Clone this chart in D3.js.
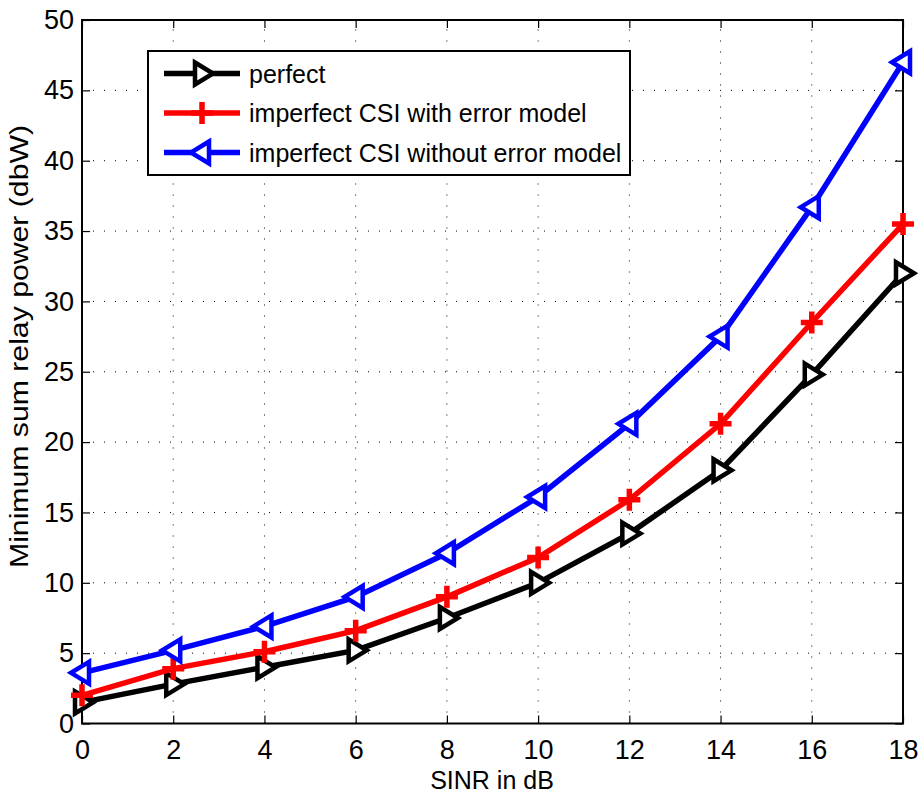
<!DOCTYPE html>
<html><head><meta charset="utf-8">
<script src="https://cdn.jsdelivr.net/npm/d3@7"></script>
<style>body{margin:0;background:#fff}svg{display:block}text{font-family:"Liberation Sans",Arial,sans-serif}</style>
</head><body>
<svg id="c" width="921" height="798"></svg>
<script>
const sinr = [0,2,4,6,8,10,12,14,16,18];
const perfect = [1.5,2.8,4.0,5.2,7.5,10.0,13.5,18.0,24.8,32.0];
const withErr = [2.0,3.9,5.1,6.6,9.0,11.8,15.9,21.3,28.5,35.5];
const withoutErr = [3.6,5.2,6.9,9.0,12.1,16.1,21.3,27.5,36.7,47.0];
const seriesNames = ["perfect","imperfect CSI with error model","imperfect CSI without error model"];
const xTicks = [0,2,4,6,8,10,12,14,16,18];
const yTicks = [0,5,10,15,20,25,30,35,40,45,50];

const svg = d3.select("#c");
const L=82, R=903, T=20, B=723.5;
const x = d3.scaleLinear().domain([0,18]).range([L,R]);
const y = d3.scaleLinear().domain([0,50]).range([B,T]);

// grid
const g = svg.append("g");
g.selectAll(".gx").data(xTicks.slice(1,-1)).join("line")
 .attr("x1",d=>x(d)).attr("x2",d=>x(d)).attr("y1",B).attr("y2",T)
 .attr("stroke","#000").attr("stroke-width",1).attr("stroke-dasharray","1,10");
g.selectAll(".gy").data(yTicks.slice(1,-1)).join("line")
 .attr("y1",d=>y(d)).attr("y2",d=>y(d)).attr("x1",L).attr("x2",R)
 .attr("stroke","#000").attr("stroke-width",1).attr("stroke-dasharray","1,10");

// axes
const ax = svg.append("g").attr("transform",`translate(0,${B})`)
 .call(d3.axisBottom(x).tickValues(xTicks).tickSize(-8).tickPadding(16));
const ay = svg.append("g").attr("transform",`translate(${L},0)`)
 .call(d3.axisLeft(y).tickValues(yTicks).tickSize(-8).tickPadding(8));
const at = svg.append("g").attr("transform",`translate(0,${T})`)
 .call(d3.axisTop(x).tickValues(xTicks).tickSize(-8).tickFormat(""));
const ar = svg.append("g").attr("transform",`translate(${R},0)`)
 .call(d3.axisRight(y).tickValues(yTicks).tickSize(-8).tickFormat(""));
[ax,ay,at,ar].forEach(a=>{
  a.select(".domain").remove();
  a.attr("font-size",null).attr("font-family",null);
  a.selectAll("line").attr("stroke","#000").attr("stroke-width",1.2);
  a.selectAll("text").style("font-size","27px").attr("fill","#000");
});
svg.append("rect").attr("x",L).attr("y",T).attr("width",R-L).attr("height",B-T)
 .attr("fill","none").attr("stroke","#000").attr("stroke-width",2);

// labels
svg.append("text").attr("x",492).attr("y",789).attr("text-anchor","middle")
 .attr("font-size",25).text("SINR in dB");
svg.append("text").attr("transform",`translate(28,346.5) rotate(-90)`).attr("text-anchor","middle")
 .attr("font-size",25).attr("textLength",443).attr("lengthAdjust","spacingAndGlyphs")
 .text("Minimum sum relay power (dbW)");

// markers
function marker(sel, type, color){
  if(type==="right"){
    sel.append("path").attr("d","M-7,-11 L11,0 L-7,11 Z").attr("fill","#fff").attr("stroke",color).attr("stroke-width",4.5);
  } else if(type==="left"){
    sel.append("path").attr("d","M7,-11 L-11,0 L7,11 Z").attr("fill","#fff").attr("stroke",color).attr("stroke-width",4.5);
  } else {
    sel.append("path").attr("d","M-11,0 L11,0 M0,-11 L0,11").attr("stroke",color).attr("stroke-width",5.5);
  }
}
const series = [
  {vals:perfect,color:"#000",m:"right"},
  {vals:withErr,color:"#ff0000",m:"plus"},
  {vals:withoutErr,color:"#0000ff",m:"left"}
];
const line = d3.line().x((d,i)=>x(sinr[i])).y(d=>y(d));
const clipG = svg.append("g");
series.forEach(s=>{
  clipG.append("path").datum(s.vals).attr("d",line).attr("fill","none")
   .attr("stroke",s.color).attr("stroke-width",5.5).attr("stroke-linejoin","miter");
  s.vals.forEach((v,i)=>{
    const m = clipG.append("g").attr("transform",`translate(${x(sinr[i])},${y(v)})`);
    marker(m,s.m,s.color);
  });
});

// legend
const lg = svg.append("g");
lg.append("rect").attr("x",148).attr("y",51).attr("width",482).attr("height",124)
 .attr("fill","#fff").attr("stroke","#000").attr("stroke-width",2);
const rowsY=[73.5,113,152.5];
series.forEach((s,i)=>{
  lg.append("line").attr("x1",164).attr("x2",240).attr("y1",rowsY[i]).attr("y2",rowsY[i])
   .attr("stroke",s.color).attr("stroke-width",5.5);
  const m = lg.append("g").attr("transform",`translate(202,${rowsY[i]})`);
  marker(m,s.m,s.color);
  lg.append("text").attr("x",249).attr("y",rowsY[i]+9).attr("font-size",25).text(seriesNames[i]);
});
</script>
</body></html>
